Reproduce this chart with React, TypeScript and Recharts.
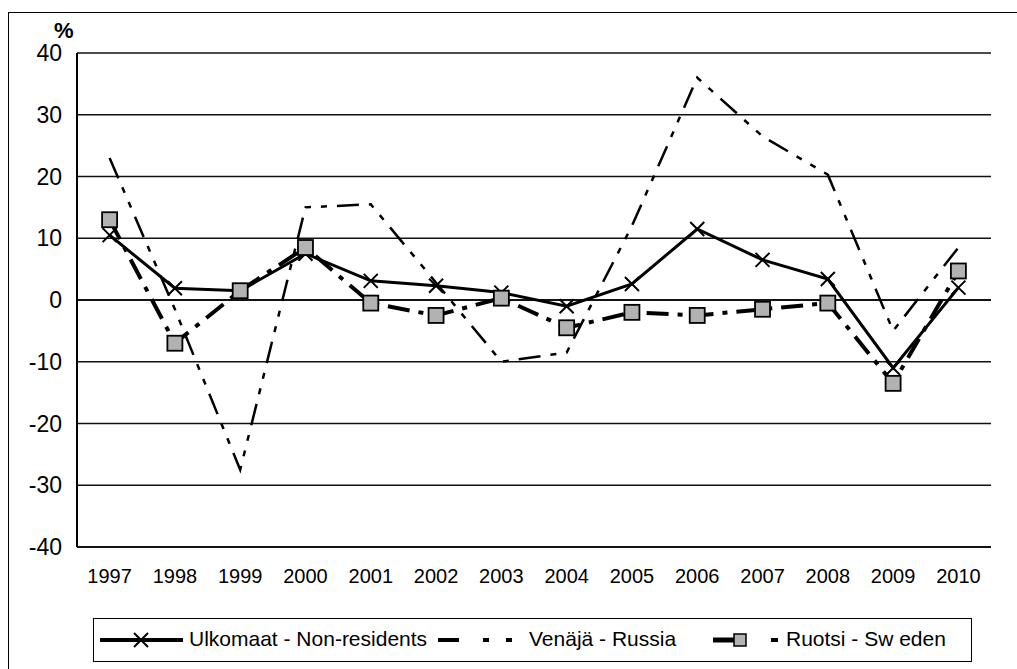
import { LineChart, Line, XAxis, YAxis, CartesianGrid, ReferenceLine } from 'recharts';

const YEARS = ['1997', '1998', '1999', '2000', '2001', '2002', '2003', '2004', '2005', '2006', '2007', '2008', '2009', '2010'];
const ULKOMAAT = [10.5, 1.9, 1.5, 7.5, 3.1, 2.3, 1.2, -1.0, 2.6, 11.5, 6.5, 3.4, -11, 2.0];
const VENAJA = [23, -1.5, -27.5, 15, 15.5, 2.8, -10, -8.5, 12, 36, 26.5, 20.3, -5, 8.5];
const RUOTSI = [13, -7, 1.5, 8.5, -0.5, -2.5, 0.3, -4.5, -2, -2.5, -1.5, -0.5, -13.5, 4.7];
const Y_TICKS = [-40, -30, -20, -10, 0, 10, 20, 30, 40];

const data = YEARS.map((year, i) => ({
  year,
  ulkomaat: ULKOMAAT[i],
  venaja: VENAJA[i],
  ruotsi: RUOTSI[i],
}));

const FONT = '"Liberation Sans", Arial, sans-serif';
const SQUARE_FILL = '#b2b2b2';

const CrossDot = (props: any) => {
  const { cx, cy } = props;
  if (cx == null || cy == null) return null;
  const s = 7;
  return (
    <path
      d={`M${cx - s},${cy - s}L${cx + s},${cy + s}M${cx - s},${cy + s}L${cx + s},${cy - s}`}
      stroke="#000"
      strokeWidth={2}
      fill="none"
    />
  );
};

const SquareDot = (props: any) => {
  const { cx, cy } = props;
  if (cx == null || cy == null) return null;
  const s = 7.5;
  return <rect x={cx - s} y={cy - s} width={s * 2} height={s * 2} fill={SQUARE_FILL} stroke="#000" strokeWidth={1.8} />;
};

function LegendBox() {
  return (
    <div
      style={{
        position: 'absolute', left: 93, top: 618, width: 879, height: 44,
        border: '1px solid #000', boxSizing: 'border-box', fontFamily: FONT, fontSize: 21, color: '#000',
      }}
    >
      <svg width={879} height={44} style={{ position: 'absolute', left: -1, top: -1 }}>
        {/* Ulkomaat sample */}
        <line x1={7} y1={22} x2={90} y2={22} stroke="#000" strokeWidth={4} />
        <path d="M41,15L55,29M41,29L55,15" stroke="#000" strokeWidth={2} />
        {/* Venäjä sample */}
        <line x1={345} y1={22} x2={366} y2={22} stroke="#000" strokeWidth={4} />
        <line x1={390} y1={22} x2={396} y2={22} stroke="#000" strokeWidth={4} />
        <line x1={413} y1={22} x2={419} y2={22} stroke="#000" strokeWidth={4} />
        {/* Ruotsi sample */}
        <line x1={620} y1={22} x2={648} y2={22} stroke="#000" strokeWidth={5} />
        <rect x={641} y={16} width={12} height={12} fill={SQUARE_FILL} stroke="#000" strokeWidth={1.5} />
        <line x1={678} y1={22} x2={685} y2={22} stroke="#000" strokeWidth={4} />
      </svg>
      <span style={{ position: 'absolute', left: 95, top: 8, lineHeight: '24px' }}>Ulkomaat - Non-residents</span>
      <span style={{ position: 'absolute', left: 435, top: 8, lineHeight: '24px' }}>Venäjä - Russia</span>
      <span style={{ position: 'absolute', left: 692, top: 8, lineHeight: '24px' }}>Ruotsi - Sw eden</span>
    </div>
  );
}

export default function App() {
  return (
    <div style={{ position: 'fixed', left: 0, top: 0, width: 1017, height: 669, overflow: 'hidden', background: '#fff' }}>
      <div
        style={{
          position: 'absolute', left: 8, top: 12, width: 1100, height: 700,
          borderLeft: '1.5px solid #000', borderTop: '1.5px solid #000',
        }}
      />
      <div style={{ position: 'absolute', left: 54, top: 19, fontFamily: FONT, fontSize: 22, fontWeight: 'bold', lineHeight: '24px' }}>%</div>
      <div style={{ position: 'absolute', left: 0, top: 0 }}>
        <LineChart width={1017} height={669} data={data} margin={{ top: 53, right: 26, bottom: 0, left: 0 }}>
          <CartesianGrid vertical={false} stroke="#111" strokeWidth={1.4} />
          <XAxis
            dataKey="year"
            height={122}
            padding={{ left: 32.6, right: 32.6 }}
            axisLine={{ stroke: '#000', strokeWidth: 1.5 }}
            tickLine={false}
            tickSize={8}
            tickMargin={14}
            tick={{ fill: '#000', fontSize: 20, fontFamily: FONT }}
            interval={0}
          />
          <YAxis
            width={77}
            domain={[-40, 40]}
            ticks={Y_TICKS}
            axisLine={{ stroke: '#000', strokeWidth: 2 }}
            tickLine={false}
            tickSize={8}
            tickMargin={7}
            tick={{ fill: '#000', fontSize: 23, fontFamily: FONT }}
          />
          <YAxis
            yAxisId="right"
            orientation="right"
            width={0}
            domain={[-40, 40]}
            tick={false}
            tickLine={false}
            axisLine={{ stroke: '#000', strokeWidth: 2 }}
          />
          <ReferenceLine y={0} stroke="#000" strokeWidth={1.5} />
          <Line
            dataKey="ulkomaat"
            stroke="#000"
            strokeWidth={3}
            dot={<CrossDot />}
            activeDot={false}
            isAnimationActive={false}
          />
          <Line
            dataKey="venaja"
            stroke="#000"
            strokeWidth={2.5}
            strokeDasharray="22 10 6 10 6 10"
            dot={false}
            activeDot={false}
            isAnimationActive={false}
          />
          <Line
            dataKey="ruotsi"
            stroke="#000"
            strokeWidth={4}
            strokeDasharray="22 9 5 9"
            dot={<SquareDot />}
            activeDot={false}
            isAnimationActive={false}
          />
        </LineChart>
      </div>
      <LegendBox />
    </div>
  );
}
